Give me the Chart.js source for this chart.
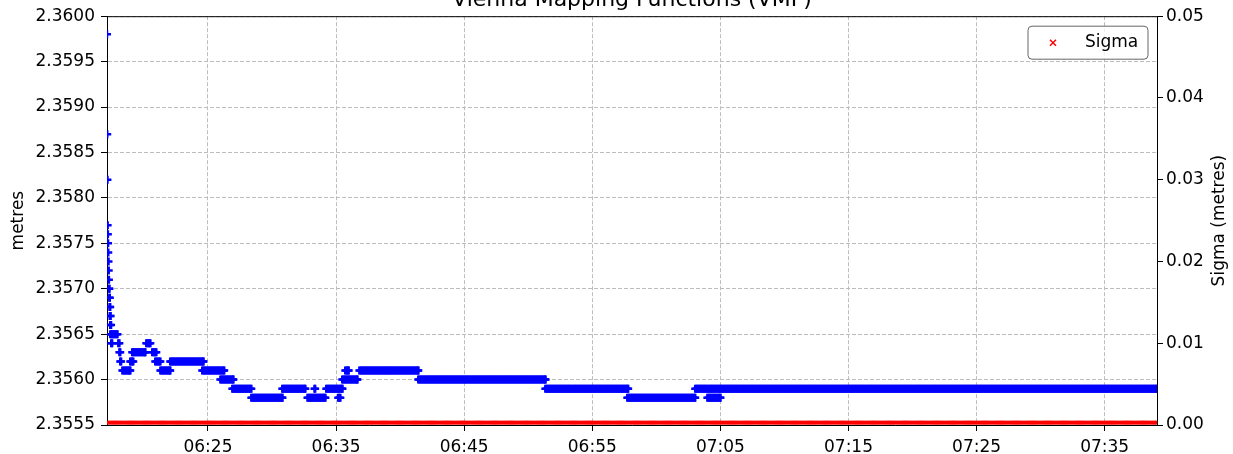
<!DOCTYPE html>
<html>
<head>
<meta charset="utf-8">
<title>Vienna Mapping Functions (VMF)</title>
<script src="https://cdn.jsdelivr.net/npm/chart.js@4.4.0/dist/chart.umd.min.js"></script>
<style>
  body { margin: 0; background: #fff; }
  #grafica { display: block; }
</style>
</head>
<body>
<canvas id="grafica" width="1233" height="454"></canvas>
<script>
// runs of constant value: start, end, value (metres)
const runStart = [
    '06:17:07', '06:17:08', '06:17:09', '06:17:10', '06:17:11', '06:17:12', '06:17:13',
    '06:17:14', '06:17:15', '06:17:16', '06:17:17', '06:17:18', '06:17:19', '06:17:20',
    '06:17:22', '06:17:22', '06:17:27', '06:18:00', '06:18:05', '06:18:09', '06:18:19',
    '06:18:56', '06:19:05', '06:20:11', '06:20:39', '06:20:53', '06:21:17', '06:22:03',
    '06:24:33', '06:25:58', '06:26:54', '06:28:23', '06:30:48', '06:32:46', '06:33:19',
    '06:34:14', '06:35:10', '06:35:29', '06:35:43', '06:36:49', '06:41:25', '06:51:20',
    '06:57:44', '07:03:02', '07:03:59'
];
const runEnd = [
    '06:17:07', '06:17:08', '06:17:09', '06:17:10', '06:17:11', '06:17:12', '06:17:13',
    '06:17:14', '06:17:15', '06:17:16', '06:17:18', '06:17:20', '06:17:22', '06:17:24',
    '06:17:26', '06:17:56', '06:17:31', '06:18:05', '06:18:09', '06:18:13', '06:18:56',
    '06:19:10', '06:20:06', '06:20:30', '06:20:58', '06:21:17', '06:22:03', '06:24:38',
    '06:26:16', '06:26:58', '06:28:23', '06:30:48', '06:32:36', '06:34:10', '06:33:22',
    '06:35:29', '06:35:20', '06:36:39', '06:35:58', '06:41:25', '06:51:20', '06:57:48',
    '07:03:02', '07:39:05', '07:05:00'
];
const runValue = [
    2.3598, 2.3587, 2.3582, 2.3577, 2.3576, 2.3575, 2.3574,
    2.3573, 2.3572, 2.3571, 2.3570, 2.3569, 2.3568, 2.3567,
    2.3566, 2.3565, 2.3564, 2.3564, 2.3563, 2.3562, 2.3561,
    2.3562, 2.3563, 2.3564, 2.3563, 2.3562, 2.3561, 2.3562,
    2.3561, 2.3560, 2.3559, 2.3558, 2.3559, 2.3558, 2.3559,
    2.3559, 2.3558, 2.3560, 2.3561, 2.3561, 2.3560, 2.3559,
    2.3558, 2.3559, 2.3558
];

const sigmaStart = ['06:17:07'];
const sigmaEnd = ['07:39:05'];
const sigmaValue = [0.0003];

const xTickLabels = ['06:25', '06:35', '06:45', '06:55', '07:05', '07:15', '07:25', '07:35'];
const leftTicks = [2.3555, 2.3560, 2.3565, 2.3570, 2.3575, 2.3580, 2.3585, 2.3590, 2.3595, 2.3600];
const rightTicks = [0.00, 0.01, 0.02, 0.03, 0.04, 0.05];
const xMin = '06:17:07';
const xMax = '07:39:05';
const stepSeconds = 5;

const titulo = 'Vienna Mapping Functions (VMF)';
const fuente = '"DejaVu Sans", sans-serif';

function toMinutes(t) {
    let p = t.split(':').map(Number);
    return p[0] * 60 + p[1] + (p[2] || 0) / 60;
}

function formatTime(v) {
    let total = Math.round(v);
    let h = Math.floor(total / 60);
    let m = total % 60;
    return String(h).padStart(2, '0') + ':' + String(m).padStart(2, '0');
}

function buildPoints(starts, ends, values) {
    let pts = [];
    for (let i = 0; i < starts.length; i++) {
        let a = toMinutes(starts[i]);
        let b = toMinutes(ends[i]);
        for (let t = a; t < b; t += stepSeconds / 60) {
            pts.push({ x: t, y: values[i] });
        }
        pts.push({ x: b, y: values[i] });
    }
    return pts;
}

// title, top spine, right axis title and legend box are drawn by hand
const extras = {
    id: 'extras',
    afterDraw(chart) {
        const ctx = chart.ctx;
        const a = chart.chartArea;
        ctx.save();
        ctx.strokeStyle = '#000';
        ctx.lineWidth = 1;
        ctx.beginPath();
        ctx.moveTo(a.left, a.top + 0.5);
        ctx.lineTo(a.right, a.top + 0.5);
        ctx.stroke();

        ctx.fillStyle = '#000';
        ctx.font = '22px ' + fuente;
        ctx.textAlign = 'center';
        ctx.textBaseline = 'alphabetic';
        ctx.fillText(titulo, (a.left + a.right) / 2, 6);

        ctx.save();
        ctx.font = '17px ' + fuente;
        ctx.translate(1220, (a.top + a.bottom) / 2);
        ctx.rotate(-Math.PI / 2);
        ctx.textBaseline = 'middle';
        ctx.fillText('Sigma (metres)', 0, 0);
        ctx.restore();

        // legend
        let bx = a.right - 129, by = a.top + 10, bw = 120, bh = 33, r = 4;
        ctx.beginPath();
        ctx.moveTo(bx + r, by);
        ctx.arcTo(bx + bw, by, bx + bw, by + bh, r);
        ctx.arcTo(bx + bw, by + bh, bx, by + bh, r);
        ctx.arcTo(bx, by + bh, bx, by, r);
        ctx.arcTo(bx, by, bx + bw, by, r);
        ctx.closePath();
        ctx.fillStyle = 'rgba(255,255,255,0.8)';
        ctx.fill();
        ctx.strokeStyle = '#666';
        ctx.stroke();

        let mx = bx + 25, my = by + bh / 2;
        ctx.strokeStyle = '#ff0000';
        ctx.lineWidth = 1.5;
        ctx.beginPath();
        ctx.moveTo(mx - 3, my - 3); ctx.lineTo(mx + 3, my + 3);
        ctx.moveTo(mx + 3, my - 3); ctx.lineTo(mx - 3, my + 3);
        ctx.stroke();

        ctx.fillStyle = '#000';
        ctx.font = '17px ' + fuente;
        ctx.textAlign = 'left';
        ctx.textBaseline = 'middle';
        ctx.fillText('Sigma', bx + 57, my);
        ctx.restore();
    }
};

var ctx;
window.onload = function () {
    ctx = document.getElementById('grafica').getContext('2d');
    construirGrafica();
};

function construirGrafica() {
    Chart.defaults.font.family = fuente;
    Chart.defaults.font.size = 17;
    Chart.defaults.color = '#000';

    const myChart = new Chart(ctx, {
        type: 'scatter',
        data: {
            datasets: [{
                label: 'metres',
                data: buildPoints(runStart, runEnd, runValue),
                yAxisID: 'y',
                pointStyle: 'cross',
                pointRadius: 4,
                pointBorderWidth: 2.5,
                borderColor: '#0000ff',
                backgroundColor: '#0000ff',
                showLine: false,
                clip: 0
            }, {
                label: 'Sigma',
                data: buildPoints(sigmaStart, sigmaEnd, sigmaValue),
                yAxisID: 'y1',
                pointStyle: 'crossRot',
                pointRadius: 2.2,
                pointBorderWidth: 1.5,
                borderColor: '#ff0000',
                backgroundColor: '#ff0000',
                showLine: false,
                clip: 0
            }]
        },
        options: {
            responsive: false,
            animation: false,
            layout: { padding: { top: 16, left: 0, right: 0, bottom: 0 } },
            plugins: {
                legend: { display: false },
                tooltip: { enabled: false }
            },
            scales: {
                x: {
                    type: 'linear',
                    position: 'bottom',
                    min: toMinutes(xMin),
                    max: toMinutes(xMax),
                    afterBuildTicks: function (scale) {
                        scale.ticks = xTickLabels.map(l => ({ value: toMinutes(l) }));
                    },
                    afterFit: function (scale) { scale.height = 29; },
                    grid: { color: '#bdbdbd', tickColor: '#000', tickLength: 6, tickWidth: 1, tickBorderDash: [] },
                    border: { color: '#000', width: 1, dash: [4, 2] },
                    ticks: {
                        padding: 6,
                        maxRotation: 0,
                        autoSkip: false,
                        callback: function (v) { return formatTime(v); }
                    }
                },
                y: {
                    type: 'linear',
                    position: 'left',
                    min: 2.3555,
                    max: 2.36,
                    afterBuildTicks: function (scale) {
                        scale.ticks = leftTicks.map(v => ({ value: v }));
                    },
                    afterFit: function (scale) { scale.width = 107; },
                    grid: { color: '#bdbdbd', tickColor: '#000', tickLength: 6, tickWidth: 1, tickBorderDash: [] },
                    border: { color: '#000', width: 1, dash: [4, 2] },
                    ticks: {
                        padding: 6,
                        callback: function (v) { return v.toFixed(4); }
                    },
                    title: {
                        display: true,
                        text: 'metres',
                        font: { size: 17 },
                        padding: { top: 8, bottom: 0 }
                    }
                },
                y1: {
                    type: 'linear',
                    position: 'right',
                    min: 0,
                    max: 0.05,
                    afterBuildTicks: function (scale) {
                        scale.ticks = rightTicks.map(v => ({ value: v }));
                    },
                    afterFit: function (scale) { scale.width = 76; },
                    grid: { drawOnChartArea: false, color: '#000', tickColor: '#000', tickLength: 6, tickWidth: 1 },
                    border: { color: '#000', width: 1 },
                    ticks: {
                        padding: 3,
                        callback: function (v) { return v.toFixed(2); }
                    }
                }
            }
        },
        plugins: [extras]
    });
}
</script>
</body>
</html>
